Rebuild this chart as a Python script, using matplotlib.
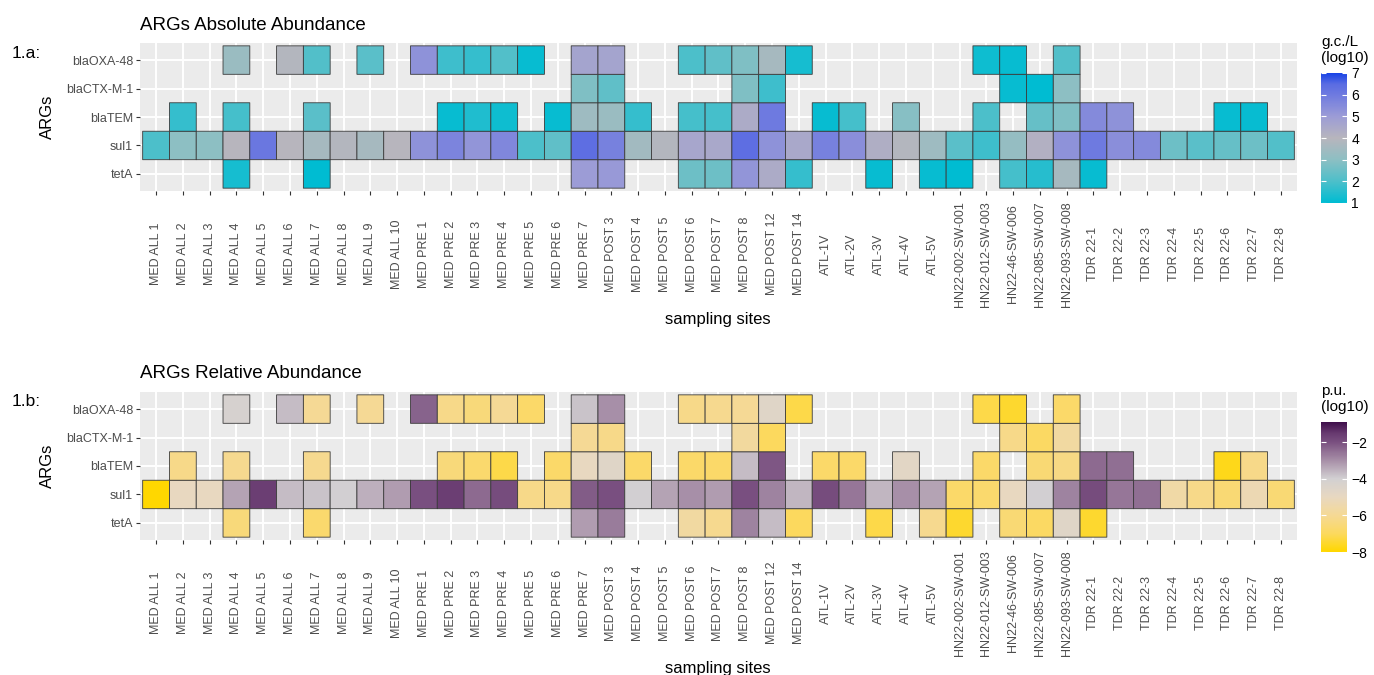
import numpy as np
import matplotlib
matplotlib.use("Agg")
import matplotlib.pyplot as plt
from matplotlib.colors import LinearSegmentedColormap, Normalize
from matplotlib.cm import ScalarMappable

plt.rcParams['font.family'] = ['Liberation Sans', 'DejaVu Sans']

sites = [
    'MED ALL 1', 'MED ALL 2', 'MED ALL 3', 'MED ALL 4', 'MED ALL 5',
    'MED ALL 6', 'MED ALL 7', 'MED ALL 8', 'MED ALL 9', 'MED ALL 10',
    'MED PRE 1', 'MED PRE 2', 'MED PRE 3', 'MED PRE 4', 'MED PRE 5',
    'MED PRE 6', 'MED PRE 7', 'MED POST 3', 'MED POST 4', 'MED POST 5',
    'MED POST 6', 'MED POST 7', 'MED POST 8', 'MED POST 12', 'MED POST 14',
    'ATL-1V', 'ATL-2V', 'ATL-3V', 'ATL-4V', 'ATL-5V',
    'HN22-002-SW-001', 'HN22-012-SW-003', 'HN22-46-SW-006',
    'HN22-085-SW-007', 'HN22-093-SW-008',
    'TDR 22-1', 'TDR 22-2', 'TDR 22-3', 'TDR 22-4', 'TDR 22-5',
    'TDR 22-6', 'TDR 22-7', 'TDR 22-8',
]

# genes listed bottom -> top of the y axis
genes = ['tetA', 'sul1', 'blaTEM', 'blaCTX-M-1', 'blaOXA-48']

_ = None

# absolute abundance, g.c./L (log10), one value per site
abs_oxa48 = [_, _, _, 3.3, _, 3.9, 2.1, _, 2.2, _,
             5.3, 1.8, 1.7, 2.1, 1.1, _, 4.7, 4.7, _, _,
             2.0, 2.3, 2.8, 3.6, 1.3, _, _, _, _, _,
             _, 1.2, 1.1, _, 2.1, _, _, _, _, _, _, _, _]
abs_ctxm1 = [_, _, _, _, _, _, _, _, _, _,
             _, _, _, _, _, _, 2.8, 2.3, _, _,
             _, _, 2.8, 1.8, _, _, _, _, _, _,
             _, _, 1.1, 1.0, 3.0, _, _, _, _, _, _, _, _]
abs_tem = [_, 1.7, _, 1.9, _, _, 2.2, _, _, _,
           _, 1.1, 1.4, 1.2, _, 1.1, 3.4, 3.3, 1.7, _,
           1.9, 1.9, 4.4, 6.0, _, 1.1, 1.9, _, 2.9, _,
           _, 2.0, _, 2.4, 2.8, 5.5, 5.3, _, _, _, 1.1, 1.1, _]
abs_sul1 = [2.0, 3.0, 3.0, 4.0, 6.1, 4.0, 3.6, 3.9, 3.6, 4.0,
            5.3, 5.7, 5.2, 5.6, 2.0, 2.3, 6.4, 5.8, 3.5, 3.9,
            4.6, 4.5, 6.4, 5.3, 4.5, 5.8, 5.4, 4.3, 3.9, 3.4,
            2.2, 1.8, 3.2, 4.2, 5.3, 6.0, 5.4, 5.5, 2.5, 2.2, 2.4, 2.5, 2.1]
abs_teta = [_, _, _, 1.3, _, _, 1.0, _, _, _,
            _, _, _, _, _, _, 5.0, 5.1, _, _,
            2.5, 2.5, 5.2, 4.4, 1.7, _, _, 1.1, _, 1.1,
            1.0, _, 1.9, 1.5, 3.6, 1.1, _, _, _, _, _, _, _]

# relative abundance, p.u. (log10)
rel_oxa48 = [_, _, _, -4.2, _, -3.7, -6.0, _, -6.0, _,
             -2.3, -6.2, -6.5, -6.0, -6.8, _, -3.8, -3.0, _, _,
             -6.2, -6.1, -6.0, -4.6, -7.2, _, _, _, _, _,
             _, -7.2, -7.5, _, -6.8, _, _, _, _, _, _, _, _]
rel_ctxm1 = [_, _, _, _, _, _, _, _, _, _,
             _, _, _, _, _, _, -6.0, -6.2, _, _,
             _, _, -5.8, -7.0, _, _, _, _, _, _,
             _, _, -6.2, -6.9, -5.7, _, _, _, _, _, _, _, _]
rel_tem = [_, -6.2, _, -6.1, _, _, -6.1, _, _, _,
           _, -6.5, -6.7, -7.2, _, -6.8, -5.0, -4.6, -6.8, _,
           -6.8, -6.8, -3.7, -2.1, _, -6.8, -6.8, _, -4.7, _,
           _, -6.8, _, -6.6, -6.3, -2.4, -2.5, _, _, _, -7.7, -6.2, _]
rel_sul1 = [-8.0, -5.0, -5.0, -3.3, -1.6, -3.7, -3.8, -4.0, -3.5, -3.2,
            -2.0, -1.6, -2.4, -1.9, -6.2, -6.2, -2.2, -2.0, -4.0, -3.3,
            -3.0, -3.2, -2.0, -2.8, -3.6, -1.9, -2.6, -3.6, -3.0, -3.3,
            -6.8, -6.7, -5.0, -4.0, -2.8, -1.9, -2.6, -2.5, -5.6, -6.2,
            -6.6, -5.3, -6.6]
rel_teta = [_, _, _, -6.5, _, _, -6.7, _, _, _,
            _, _, _, _, _, _, -3.2, -2.7, _, _,
            -5.7, -6.1, -2.8, -3.7, -7.0, _, _, -7.2, _, -6.1,
            -7.5, _, -6.6, -6.9, -4.6, -7.5, _, _, _, _, _, _, _]

W, H = 1374, 675
fig = plt.figure(figsize=(W / 100, H / 100), dpi=100)


def box(left, top, right, bottom):
    # pixel box -> figure fraction rect
    return [left / W, 1 - bottom / H, (right - left) / W, (bottom - top) / H]


def as_grid(rows):
    arr = np.array([[np.nan if v is None else v for v in r] for r in rows])
    return np.ma.masked_invalid(arr)


abs_nodes = [(1.0, '#00BCD2'), (2.0, '#4DBFCA'), (3.0, '#8DBFC3'),
             (4.0, '#B7B5BD'), (5.0, '#9C9CD6'), (6.0, '#6E7AE0'),
             (6.5, '#5A6CE2'), (7.0, '#1A44E6')]
cmap_abs = LinearSegmentedColormap.from_list(
    'abs', [((v - 1.0) / 6.0, c) for v, c in abs_nodes])

rel_nodes = [(-8.0, '#FFD700'), (-7.0, '#FCD95E'), (-6.0, '#F5D995'),
             (-5.0, '#E8D8C0'), (-4.0, '#D2D0D2'), (-3.0, '#A890A8'),
             (-2.0, '#7A5080'), (-1.5, '#683A70'), (-0.9, '#40104C')]
cmap_rel = LinearSegmentedColormap.from_list(
    'rel', [((v + 8.0) / 7.1, c) for v, c in rel_nodes])


def heat_panel(top, rows, cmap, vmin, vmax, ticks, title, tag, unit):
    bottom = top + 148
    ax = fig.add_axes(box(140, top, 1297, bottom))
    ax.set_facecolor('#EBEBEB')
    norm = Normalize(vmin, vmax)
    xe = np.arange(len(sites) + 1) - 0.5
    ye = np.arange(len(genes) + 1) - 0.5
    ax.pcolor(xe, ye, as_grid(rows), cmap=cmap, norm=norm,
              edgecolors='#3A3A3A', linewidth=0.6, zorder=2)
    ax.set_xlim(-0.6, len(sites) - 0.4)
    ax.set_ylim(-0.6, len(genes) - 0.4)
    for s in ax.spines.values():
        s.set_visible(False)
    ax.set_axisbelow(True)
    ax.grid(True, color='white', linewidth=1.4, zorder=0)

    # site names are centred on a common line below the ticks
    ax.set_xticks(range(len(sites)))
    ax.set_xticklabels(sites, rotation=90, va='center', ha='center')
    ax.set_yticks(range(len(genes)))
    ax.set_yticklabels(genes)
    ax.tick_params(axis='both', length=2.9, width=0.8, color='#333333',
                   labelcolor='#4D4D4D', labelsize=9)
    ax.tick_params(axis='x', pad=42.5)
    ax.tick_params(axis='y', pad=2.2)

    fig.text(140 / W, 1 - (top - 18) / H, title, fontsize=13.5,
             va='center', ha='left')
    fig.text(12 / W, 1 - (top + 10) / H, tag, fontsize=12.5,
             va='center', ha='left')
    fig.text(47 / W, 1 - (top + 74) / H, 'ARGs', fontsize=12,
             rotation=90, va='center', ha='center')
    fig.text(718 / W, 1 - (top + 276) / H, 'sampling sites', fontsize=12,
             va='center', ha='center')

    # colour bar on the right
    cbar_top = top + 30
    cax = fig.add_axes(box(1321, cbar_top, 1347, cbar_top + 130))
    cb = fig.colorbar(ScalarMappable(norm=norm, cmap=cmap), cax=cax)
    cb.outline.set_visible(False)
    cb.set_ticks(ticks)
    cb.ax.tick_params(length=0, labelsize=10, pad=3)
    cax.hlines(ticks, 0, 0.2, color='white', linewidth=0.8)
    cax.hlines(ticks, 0.8, 1.0, color='white', linewidth=0.8)
    fig.text(1321 / W, 1 - (top + 7) / H, unit, fontsize=11,
             va='center', ha='left', linespacing=1.15)
    return ax


heat_panel(43, [abs_teta, abs_sul1, abs_tem, abs_ctxm1, abs_oxa48],
           cmap_abs, 1.0, 7.0, [1, 2, 3, 4, 5, 6, 7],
           'ARGs Absolute Abundance', '1.a:', 'g.c./L\n(log10)')
heat_panel(392, [rel_teta, rel_sul1, rel_tem, rel_ctxm1, rel_oxa48],
           cmap_rel, -8.0, -0.9, [-8, -6, -4, -2],
           'ARGs Relative Abundance', '1.b:', 'p.u.\n(log10)')

fig.savefig('out.png', dpi=100, facecolor='white')
